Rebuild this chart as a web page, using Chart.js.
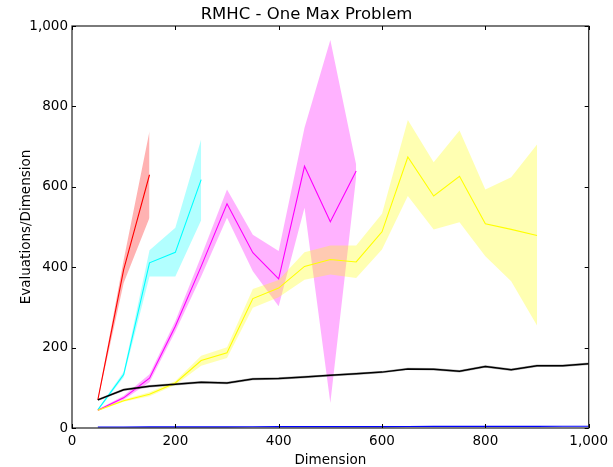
<!DOCTYPE html>
<html>
<head>
<meta charset="utf-8">
<script src="https://cdn.jsdelivr.net/npm/chart.js@4.4.1/dist/chart.umd.min.js"></script>
<style>
html,body{margin:0;padding:0;background:#fff;}
#wrap{width:613px;height:467px;}
</style>
</head>
<body>
<div id="wrap"><canvas id="c" width="613" height="467"></canvas></div>
<script>
// ---- data ----
const dims = [50,100,150,200,250,300,350,400,450,500,550,600,650,700,750,800,850,900,950,1000];

const redMean  = [70, 394, 630];
const redLow   = [68, 361, 523];
const redHigh  = [72, 418, 738];

const cyanMean = [45, 133, 411, 437, 618];
const cyanLow  = [43, 126, 377, 377, 517];
const cyanHigh = [47, 140, 442, 498, 718];

const magMean  = [44, 75, 124, 253, 402, 558, 436, 371, 651, 513, 639];
const magLow   = [42, 70, 114, 240, 377, 523, 390, 303, 548, 62, 625];
const magHigh  = [46, 80, 134, 266, 427, 593, 481, 440, 747, 965, 655];

const yelMean  = [44, 68, 84, 112, 168, 187, 322, 348, 402, 419, 413, 488, 674, 577, 626, 508, 494, 479];
const yelLow   = [42, 65, 79, 107, 155, 174, 299, 325, 369, 382, 373, 444, 577, 494, 512, 427, 365, 255];
const yelHigh  = [46, 71, 89, 117, 180, 201, 346, 368, 437, 454, 454, 533, 766, 661, 740, 593, 624, 705];

const blkMean  = [70, 95, 104, 109, 114, 112, 122, 123, 127, 131, 135, 139, 147, 146, 141, 153, 145, 155, 155, 160];
const blkLow   = [67, 92, 101, 106, 111, 109, 119, 120, 124, 128, 132, 136, 144, 143, 138, 150, 142, 152, 152, 157];
const blkHigh  = [73, 98, 107, 112, 117, 115, 125, 126, 130, 134, 138, 142, 150, 149, 144, 156, 148, 158, 158, 163];

const bluMean  = [2.5, 2.5, 2.7, 2.8, 2.9, 3.0, 3.1, 3.2, 3.3, 3.4, 3.5, 3.6, 3.7, 3.8, 3.9, 4.0, 4.1, 4.2, 4.3, 4.4];

const xTicks = [0, 200, 400, 600, 800, 1000];
const yTicks = [0, 200, 400, 600, 800, 1000];

const titleText = 'RMHC - One Max Problem';
const xLabel = 'Dimension';
const yLabel = 'Evaluations/Dimension';

// ---- build datasets ----
function pts(ys){ return ys.map((y,i)=>({x:dims[i], y:y})); }
const datasets = [];
function band(low, high, fillColor){
  datasets.push({data:pts(low), borderWidth:0, pointRadius:0, fill:false, borderColor:'rgba(0,0,0,0)'});
  datasets.push({data:pts(high), borderWidth:0, pointRadius:0, fill:'-1', backgroundColor:fillColor, borderColor:'rgba(0,0,0,0)'});
}
function line(mean, color, w){
  datasets.push({data:pts(mean), borderColor:color, borderWidth:w, pointRadius:0, fill:false});
}
// lines first (drawn on top), bands after
line(bluMean, '#0000ff', 1.2);
line(blkMean, '#000000', 1.5);
line(yelMean, '#ffff00', 1.1);
line(magMean, '#ff00ff', 1.1);
line(cyanMean, '#00ffff', 1.1);
line(redMean, '#ff0000', 1.1);
band(blkLow, blkHigh, 'rgba(0,0,0,0.3)');
band(yelLow, yelHigh, 'rgba(255,255,0,0.3)');
band(magLow, magHigh, 'rgba(255,0,255,0.3)');
band(cyanLow, cyanHigh, 'rgba(0,255,255,0.3)');
band(redLow, redHigh, 'rgba(255,0,0,0.3)');

const FONT = 'DejaVu Sans';

const framePlugin = {
  id: 'frame',
  afterDraw(chart){
    const {ctx, chartArea:a, scales} = chart;
    ctx.save();
    ctx.strokeStyle = '#000';
    ctx.lineWidth = 1;
    const L = 4;
    ctx.beginPath();
    scales.x.ticks.forEach(t=>{
      const px = Math.round(scales.x.getPixelForValue(t.value)) + 0.5;
      ctx.moveTo(px, a.bottom); ctx.lineTo(px, a.bottom - L);
      ctx.moveTo(px, a.top); ctx.lineTo(px, a.top + L);
    });
    scales.y.ticks.forEach(t=>{
      const py = Math.round(scales.y.getPixelForValue(t.value)) + 0.5;
      ctx.moveTo(a.left, py); ctx.lineTo(a.left + L, py);
      ctx.moveTo(a.right, py); ctx.lineTo(a.right - L, py);
    });
    ctx.stroke();
    ctx.strokeStyle = 'rgba(0,0,0,0.8)';
    ctx.lineWidth = 1.3;
    ctx.strokeRect(a.left, a.top, a.right - a.left, a.bottom - a.top);
    ctx.restore();
  }
};

new Chart(document.getElementById('c'), {
  type: 'line',
  data: {datasets},
  plugins: [framePlugin],
  options: {
    responsive: false,
    animation: false,
    devicePixelRatio: 1,
    layout: {padding: 0},
    elements: {line: {tension: 0}},
    plugins: {
      legend: {display: false},
      tooltip: {enabled: false},
      filler: {drawTime: 'beforeDatasetsDraw'},
      title: {
        display: true, text: titleText, color: '#000',
        font: {family: FONT, size: 16.5, weight: 'normal', lineHeight: 1},
        padding: {top: 6.5, bottom: 3}
      }
    },
    scales: {
      x: {
        type: 'linear', min: 0, max: 1000,
        afterBuildTicks(s){ s.ticks = xTicks.map(v=>({value:v})); },
        afterFit(s){ s.height = 39; },
        ticks: {color:'#000', padding: 5, maxRotation: 0, font:{family:FONT, size:13.5, lineHeight:1.2}},
        grid: {display: false, drawTicks: false},
        border: {display: false},
        title: {display: true, text: xLabel, color:'#000', padding:{top:0,bottom:0},
                font:{family:FONT, size:13.5, lineHeight:1}}
      },
      y: {
        type: 'linear', min: 0, max: 1000,
        afterBuildTicks(s){ s.ticks = yTicks.map(v=>({value:v})); },
        afterFit(s){ s.width = 72; },
        ticks: {color:'#000', padding: 4, font:{family:FONT, size:13.5, lineHeight:1.2}},
        grid: {display: false, drawTicks: false},
        border: {display: false},
        title: {display: true, text: yLabel, color:'#000', padding:{top:20,bottom:0},
                font:{family:FONT, size:13.5, lineHeight:1}}
      }
    }
  }
});
</script>
</body>
</html>
